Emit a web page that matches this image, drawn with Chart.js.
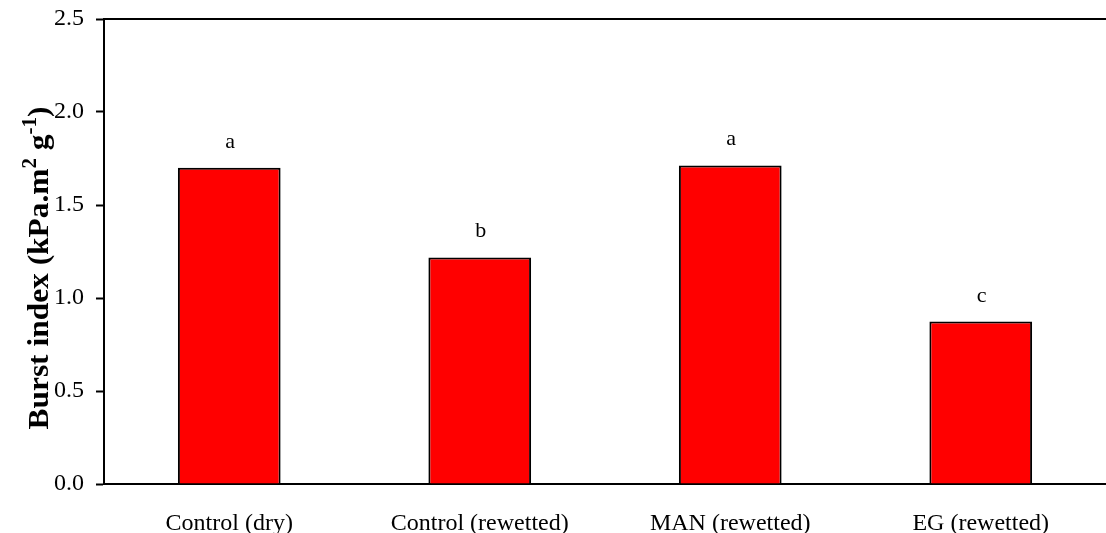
<!DOCTYPE html>
<html>
<head>
<meta charset="utf-8">
<script src="https://cdn.jsdelivr.net/npm/chart.js@4"></script>
<style>
  html, body { margin: 0; padding: 0; background: #fff; }
  #wrap { width: 1106px; height: 533px; }
</style>
</head>
<body>
<div id="wrap"><canvas id="burstChart"></canvas></div>
<script>
(() => {
  'use strict'

  const categories = ['Control (dry)', 'Control (rewetted)', 'MAN (rewetted)', 'EG (rewetted)']
  const burstIndex = [1.70, 1.218, 1.713, 0.873]
  const groupLetters = ['a', 'b', 'a', 'c']
  const yTicks = [0, 0.5, 1.0, 1.5, 2.0, 2.5]

  const serif = "'Liberation Serif', 'Times New Roman', serif"

  // letters above bars, top frame line, rotated axis title with superscripts
  const extras = {
    id: 'extras',
    afterDatasetsDraw(chart) {
      const { ctx, chartArea } = chart
      const meta = chart.getDatasetMeta(0)
      ctx.save()
      ctx.fillStyle = '#000'
      ctx.font = '22px ' + serif
      ctx.textAlign = 'center'
      ctx.textBaseline = 'alphabetic'
      meta.data.forEach((bar, i) => {
        ctx.fillText(groupLetters[i], bar.x + 1, bar.y - 20)
      })

      ctx.strokeStyle = '#000'
      ctx.lineWidth = 2
      ctx.beginPath()
      ctx.moveTo(chartArea.left, chartArea.top)
      ctx.lineTo(chart.width, chartArea.top)
      ctx.stroke()

      // y axis title
      const parts = [
        ['Burst index (kPa.m', 0, 30],
        ['2', 12, 20],
        [' g', 0, 30],
        ['-1', 12, 20],
        [')', 0, 30]
      ]
      ctx.translate(48, 268)
      ctx.rotate(-Math.PI / 2)
      ctx.textAlign = 'left'
      let total = 0
      parts.forEach(p => {
        ctx.font = 'bold ' + p[2] + 'px ' + serif
        total += ctx.measureText(p[0]).width
      })
      const stretch = 323 / total
      ctx.scale(stretch, 1)
      let x = -total / 2
      parts.forEach(p => {
        ctx.font = 'bold ' + p[2] + 'px ' + serif
        ctx.fillText(p[0], x, -p[1])
        x += ctx.measureText(p[0]).width
      })
      ctx.restore()
    }
  }

  new Chart(document.getElementById('burstChart'), {
    type: 'bar',
    data: {
      labels: categories,
      datasets: [{
        data: burstIndex,
        backgroundColor: '#ff0000',
        borderColor: '#000',
        borderWidth: 2,
        borderSkipped: 'bottom',
        barPercentage: 0.41,
        categoryPercentage: 1
      }]
    },
    options: {
      responsive: true,
      maintainAspectRatio: false,
      animation: false,
      layout: { padding: { top: 19, right: 0, left: 0, bottom: 0 } },
      plugins: {
        legend: { display: false },
        tooltip: { enabled: false }
      },
      scales: {
        x: {
          grid: { display: false },
          border: { display: true, color: '#000', width: 2 },
          ticks: {
            color: '#000',
            font: { family: serif, size: 24 },
            padding: 17,
            maxRotation: 0
          },
          afterFit(scale) {
            scale.height = 49
            scale.paddingLeft = 0
            scale.paddingRight = 0
          }
        },
        y: {
          min: 0,
          max: 2.5,
          afterBuildTicks(scale) {
            scale.ticks = yTicks.map(v => ({ value: v }))
          },
          grid: {
            drawOnChartArea: false,
            drawTicks: true,
            tickLength: 8,
            tickWidth: 2,
            tickColor: '#000'
          },
          border: { display: true, color: '#000', width: 2 },
          ticks: {
            color: '#000',
            font: { family: serif, size: 24 },
            padding: 12,
            callback: v => v.toFixed(1)
          },
          afterFit(scale) {
            scale.width = 104
            scale.paddingTop = 0
            scale.paddingBottom = 0
          }
        }
      }
    },
    plugins: [extras]
  })
})()
</script>
</body>
</html>
